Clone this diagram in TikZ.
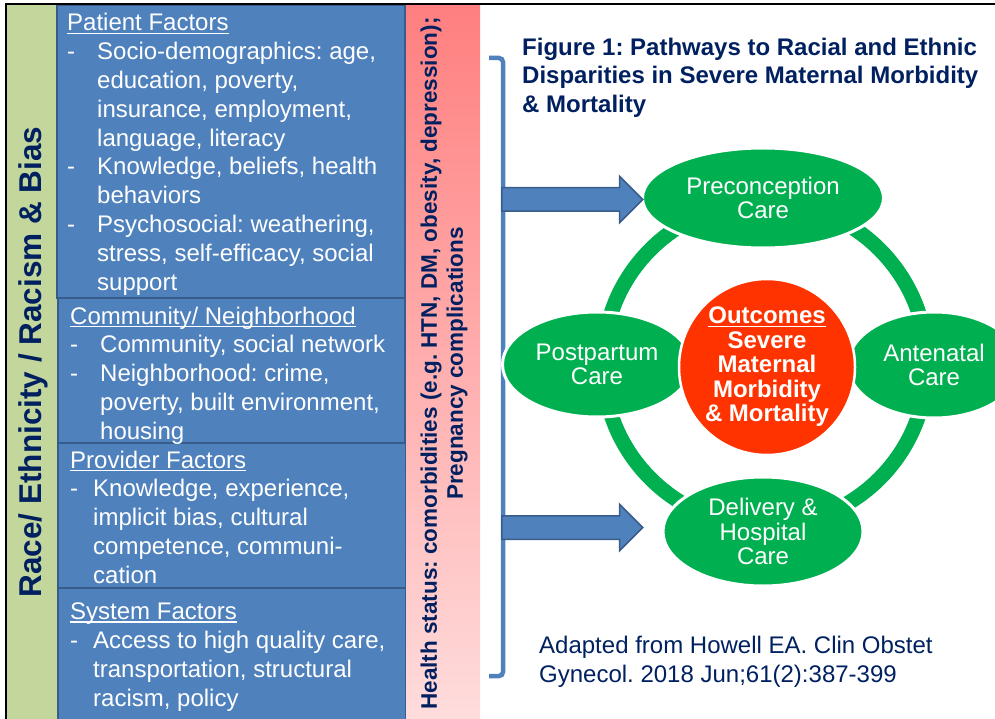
\documentclass[tikz,border=0pt]{standalone}
\usepackage{fontspec}
\setmainfont{Liberation Sans}
\usetikzlibrary{shapes.geometric,shapes.arrows}
\frenchspacing

\definecolor{navy}{HTML}{002060}
\definecolor{facblue}{HTML}{4F81BD}
\definecolor{facedge}{HTML}{385D8A}
\definecolor{olive}{HTML}{C3D69B}
\definecolor{pinktop}{HTML}{FF7F7F}
\definecolor{pinkbot}{HTML}{FFDCDC}
\definecolor{caregreen}{HTML}{00B050}
\definecolor{outred}{HTML}{FF3300}

\newcommand{\ulhead}[1]{\setbox0\hbox{#1}\rlap{\rule[-3pt]{\wd0}{1.3pt}}\box0}
\newcommand{\itemdash}[1]{\makebox[#1][l]{-}}
\newcommand{\itemgap}[1]{\hspace*{#1}}

\begin{document}
\begin{tikzpicture}
  [
    x=1pt, y=-1pt,
    facbox/.style =
      {fill=facblue, draw=facedge, line width=1.5pt},
    fac/.style =
      {anchor=north west, inner sep=0pt, align=left, text=white,
       font=\fontsize{24}{28.8}\selectfont},
    oval/.style =
      {ellipse, fill=caregreen, draw=white, line width=3pt, inner sep=0pt,
       align=center, text=white, font=\fontsize{24}{24.5}\selectfont},
    hub/.style =
      {circle, fill=outred, draw=white, line width=2.5pt, inner sep=0pt,
       minimum size=176pt, align=center, text=white,
       font=\bfseries\fontsize{24}{24.5}\selectfont},
    barrow/.style =
      {single arrow, anchor=tail, fill=facblue, draw=facedge, line width=1.5pt,
       inner xsep=0pt, inner ysep=11pt, minimum height=141pt, minimum width=45pt,
       single arrow head extend=11.5pt, single arrow tip angle=90},
    brace/.style = {draw=facblue, line width=4.5pt, rounded corners=4pt},
    ring/.style = {draw=caregreen, line width=15pt}
  ]
  \useasboundingbox (0,0) rectangle (995,719);
  \clip (0,0) rectangle (995,719);

  \fill [olive] (7,5) rectangle (57,719);
  \draw [facbox] (57,5) rectangle (405,298);
  \draw [facbox] (58,298) rectangle (405,443);
  \draw [facbox] (58,443) rectangle (406,588);
  \draw [facbox] (58,588) rectangle (406,725);
  \shade [top color=pinktop, bottom color=pinkbot] (406,5) rectangle (480,719);
  \draw [line width=2.5pt] (6,719) -- (6,4) -- (995,4);

  \node [rotate=90, text=navy, font=\bfseries\fontsize{31.5}{36}\selectfont]
    (race) at (33,362) {Race/ Ethnicity / Racism \& Bias};

  \node [fac] (patient) at (67,13.3) {\ulhead{Patient Factors}\\
    \itemdash{30pt}Socio-demographics: age,\\
    \itemgap{30pt}education, poverty,\\
    \itemgap{30pt}insurance, employment,\\
    \itemgap{30pt}language, literacy\\
    \itemdash{30pt}Knowledge, beliefs, health\\
    \itemgap{30pt}behaviors\\
    \itemdash{30pt}Psychosocial: weathering,\\
    \itemgap{30pt}stress, self-efficacy, social\\
    \itemgap{30pt}support};
  \node [fac] (community) at (70,306.5) {\ulhead{Community/ Neighborhood}\\
    \itemdash{30pt}Community, social network\\
    \itemdash{30pt}Neighborhood: crime,\\
    \itemgap{30pt}poverty, built environment,\\
    \itemgap{30pt}housing};
  \node [fac] (provider) at (70,450.5) {\ulhead{Provider Factors}\\
    \itemdash{23pt}Knowledge, experience,\\
    \itemgap{23pt}implicit bias, cultural\\
    \itemgap{23pt}competence, communi-\\
    \itemgap{23pt}cation};
  \node [fac] (system) at (70,602.7) {\ulhead{System Factors}\\
    \itemdash{23pt}Access to high quality care,\\
    \itemgap{23pt}transportation, structural\\
    \itemgap{23pt}racism, policy};

  \node [rotate=90, align=center, text=navy,
         font=\bfseries\fontsize{22.5}{26}\selectfont] (health) at (444,363.5)
    {Health status: comorbidities (e.g. HTN, DM, obesity, depression);\\
     Pregnancy complications};

  \node [anchor=north west, inner sep=0pt, align=left, text=navy,
         font=\bfseries\fontsize{24}{28.5}\selectfont] (title) at (522,37.5)
    {Figure 1: Pathways to Racial and Ethnic\\
     Disparities in Severe Maternal Morbidity\\
     \& Mortality};

  \coordinate (brtop) at (503,58);
  \coordinate (brbot) at (503,676);
  \draw [brace] (brtop) ++(-14,0) -- (brtop) -- (brbot) -- ++(-14,0);

  \coordinate (hubc) at (765,364);
  \draw [ring] (hubc) circle (162);

  \node [oval, minimum width=241pt, minimum height=100pt] (pre) at (763,198)
    {Preconception\\Care};
  \node [oval, minimum width=172pt, minimum height=106pt] (ante) at (934,365)
    {Antenatal\\Care};
  \node [oval, minimum width=200pt, minimum height=109pt] (deliv) at (763,531.5)
    {Delivery \&\\Hospital\\Care};
  \node [oval, minimum width=189pt, minimum height=105pt] (post) at (597,364.5)
    {Postpartum\\Care};
  \node [hub] (outc) at (767,367)
    {\ulhead{Outcomes}\\Severe\\Maternal\\Morbidity\\\& Mortality};

  \coordinate (brk1) at (501,199.5);
  \coordinate (brk2) at (501,527.5);
  \node [barrow] (arr1) at (brk1) {};
  \node [barrow] (arr2) at (brk2) {};

  \node [anchor=north west, inner sep=0pt, align=left, text=navy,
         font=\fontsize{24}{29}\selectfont] (cite) at (539,635.5)
    {Adapted from Howell EA. Clin Obstet\\
     Gynecol. 2018 Jun;61(2):387-399};

\end{tikzpicture}
\end{document}
